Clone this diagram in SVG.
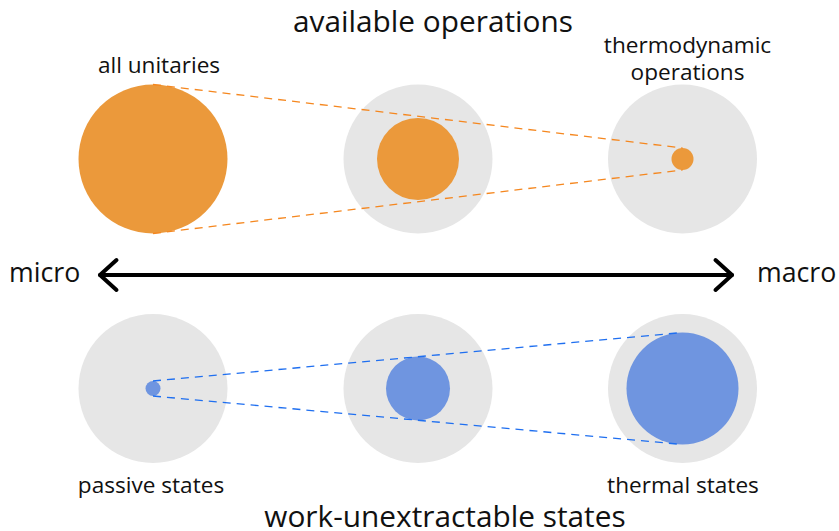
<svg xmlns="http://www.w3.org/2000/svg" width="839" height="531" viewBox="0 0 839 531">
  <style>
    text { font-family: "Open Sans", "Noto Sans", "DejaVu Sans", sans-serif; fill: #111111; }
    .title { font-size: 29.8px; text-anchor: middle; }
    .side { font-size: 26.7px; }
    .label { font-size: 22.6px; text-anchor: middle; }
    .outer { fill: #e6e6e6; }
    .ops { fill: #eb993b; }
    .states { fill: #6f95e0; }
    .dash-ops { stroke: #f5871f; stroke-width: 1.3; stroke-dasharray: 8 6; fill: none; }
    .dash-states { stroke: #1f6ff0; stroke-width: 1.3; stroke-dasharray: 8 6; fill: none; }
    .axis { stroke: #000000; stroke-width: 4; fill: none; stroke-linecap: round; stroke-linejoin: round; }
  </style>

  <!-- headings -->
  <text class="title" x="433" y="32">available operations</text>
  <text class="title" x="445" y="527">work-unextractable states</text>

  <!-- top row: sets of operations -->
  <g id="all-unitaries">
    <circle class="ops" cx="153" cy="159" r="74.5"/>
    <text class="label" x="159" y="73">all unitaries</text>
  </g>
  <g id="ops-intermediate">
    <circle class="outer" cx="418" cy="159" r="74.5"/>
    <circle class="ops" cx="418" cy="159" r="41"/>
  </g>
  <g id="thermodynamic-operations">
    <circle class="outer" cx="682.5" cy="159" r="74.5"/>
    <circle class="ops" cx="682.5" cy="159" r="11"/>
    <text class="label" x="687.5" y="53">thermodynamic<tspan x="687.5" dy="27">operations</tspan></text>
  </g>

  <!-- bottom row: sets of states -->
  <g id="passive-states">
    <circle class="outer" cx="153" cy="388.5" r="74.5"/>
    <circle class="states" cx="153" cy="388.5" r="7.5"/>
    <text class="label" x="151" y="493">passive states</text>
  </g>
  <g id="states-intermediate">
    <circle class="outer" cx="418" cy="388.5" r="74.5"/>
    <circle class="states" cx="418" cy="388.5" r="32"/>
  </g>
  <g id="thermal-states">
    <circle class="outer" cx="682.5" cy="388.5" r="74.5"/>
    <circle class="states" cx="682.5" cy="388.5" r="56"/>
    <text class="label" x="683" y="493">thermal states</text>
  </g>

  <!-- axis labels -->
  <text class="side" x="9" y="282">micro</text>
  <text class="side" x="757" y="282">macro</text>

  <!-- connectors -->
  <g id="connectors">
    <line class="dash-ops" x1="153" y1="84.5" x2="682.5" y2="148"/>
    <line class="dash-ops" x1="153" y1="233.5" x2="682.5" y2="170"/>
    <line class="dash-states" x1="153" y1="381" x2="682.5" y2="332.5"/>
    <line class="dash-states" x1="153" y1="396" x2="682.5" y2="444.5"/>
    <line class="axis" x1="100" y1="275" x2="732" y2="275"/>
    <polyline class="axis" points="116.5,260 100,275 116.5,290"/>
    <polyline class="axis" points="715.5,260 732,275 715.5,290"/>
  </g>
</svg>
